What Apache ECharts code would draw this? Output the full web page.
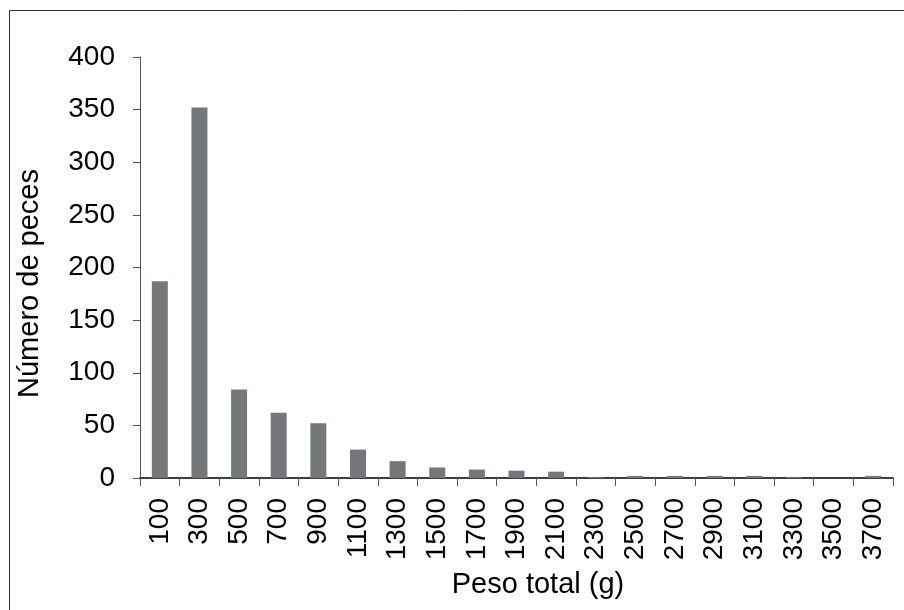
<!DOCTYPE html>
<html>
<head>
<meta charset="utf-8">
<script src="https://cdn.jsdelivr.net/npm/echarts@6/dist/echarts.min.js"></script>
<style>
html,body{margin:0;padding:0;background:#fff;}
#chart{width:904px;height:610px;}
</style>
</head>
<body>
<div id="chart"></div>
<script>
const categories = ['100','300','500','700','900','1100','1300','1500','1700','1900','2100','2300','2500','2700','2900','3100','3300','3500','3700'];
const counts = [187, 352, 84, 62, 52, 27, 16, 10, 8, 7, 6, 1, 2, 2, 2, 2, 1, 0, 2];
const yTicks = { min: 0, max: 400, interval: 50 };

const chart = echarts.init(document.getElementById('chart'), null, {renderer: 'canvas'});
const font = '"Liberation Sans", Arial, sans-serif';
chart.setOption({
  animation: false,
  backgroundColor: '#ffffff',
  graphic: [{
    type: 'rect',
    shape: {x: 9.5, y: 10.5, width: 900, height: 610},
    style: {fill: 'none', stroke: '#333', lineWidth: 1},
    silent: true
  }],
  grid: {left: 140, right: 11, top: 57, bottom: 132, containLabel: false},
  xAxis: {
    type: 'category',
    data: categories,
    name: 'Peso total (g)',
    nameLocation: 'middle',
    nameGap: 92,
    nameTextStyle: {fontFamily: font, fontSize: 29, color: '#000', padding: [0, 0, 0, 43]},
    axisLine: {lineStyle: {color: '#000', width: 1.5}},
    axisTick: {show: true, length: 8, alignWithLabel: false, lineStyle: {color: '#555'}},
    axisLabel: {rotate: 90, fontFamily: font, fontSize: 28, color: '#000', margin: 20, interval: 0}
  },
  yAxis: {
    type: 'value',
    min: yTicks.min, max: yTicks.max, interval: yTicks.interval,
    name: 'Número de peces',
    nameLocation: 'middle',
    nameGap: 96,
    nameTextStyle: {fontFamily: font, fontSize: 29, color: '#000', padding: [0, 32, 0, 0]},
    splitLine: {show: false},
    axisLine: {show: true, lineStyle: {color: '#555', width: 1}},
    axisTick: {show: true, length: 7, lineStyle: {color: '#555'}},
    axisLabel: {fontFamily: font, fontSize: 28, color: '#000', margin: 25}
  },
  series: [{
    type: 'bar',
    data: counts,
    barWidth: 16,
    itemStyle: {color: '#75787b'}
  }]
});
</script>
</body>
</html>
